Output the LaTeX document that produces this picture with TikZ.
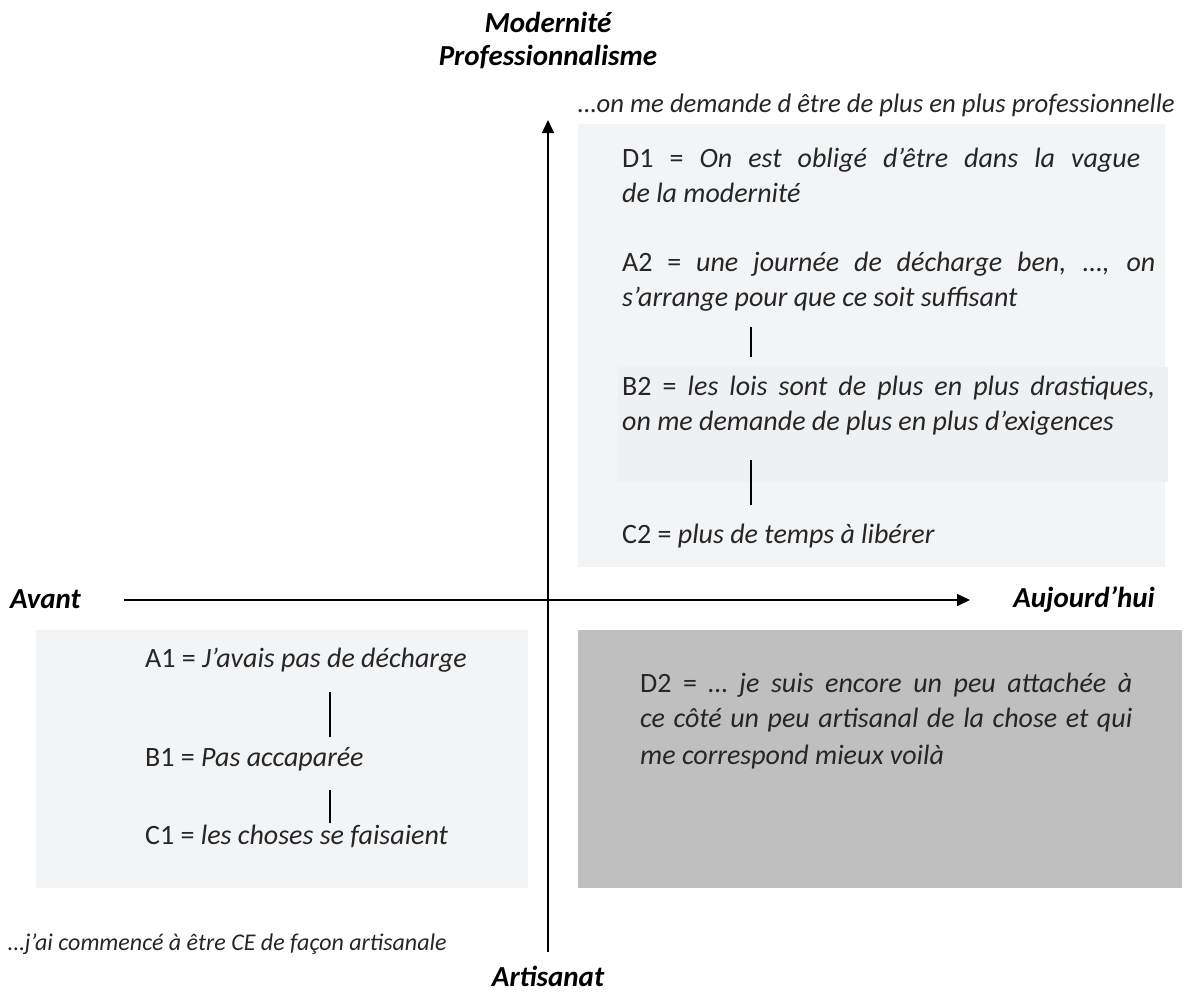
\documentclass[tikz,border=0pt]{standalone}
\usepackage{fontspec}
\setmainfont{Carlito}
\usetikzlibrary{arrows.meta}
\definecolor{boxlight}{HTML}{F3F4F6}
\definecolor{boxsub}{HTML}{EFF0F2}
\definecolor{boxdark}{HTML}{BFBFBF}
\definecolor{txt}{HTML}{262626}
\newcommand{\stretchline}[2]{\makebox[#1][s]{#2}}
\tikzset{
  axis/.style={line width=1.6pt, -{Triangle[length=13pt,width=12pt]}},
  title/.style={font=\fontsize{29}{35}\selectfont\bfseries\itshape, text=black, inner sep=0pt},
  note/.style={font=\fontsize{26.7}{32}\selectfont\itshape, text=txt, inner sep=0pt, anchor=base west},
  smallnote/.style={font=\fontsize{24}{29}\selectfont\itshape, text=txt, inner sep=0pt, anchor=base west},
  item/.style={font=\fontsize{28}{34}\selectfont, text=txt, inner sep=0pt, anchor=base west},
  link/.style={line width=1.4pt},
}
\begin{document}
\begin{tikzpicture}[x=1pt,y=-1pt]
\useasboundingbox (0,0) rectangle (1186,994);
% boxes
\fill[boxlight] (578,124) rectangle (1165,567);
\fill[boxsub] (618,367) rectangle (1168,482);
\fill[boxlight] (36,630) rectangle (528,888);
\fill[boxdark] (578,630) rectangle (1182,888);
% axes
\coordinate (vbot) at (548,952);
\coordinate (vtop) at (548,120);
\coordinate (hleft) at (124,600);
\coordinate (hright) at (970,600);
\draw[axis] (vbot) -- (vtop);
\draw[axis] (hleft) -- (hright);
% axis titles
\node[title] (mod) at (548,22) {Modernité};
\node[title] (prof) at (548,57) {Professionnalisme};
\node[title, anchor=west] (avant) at (10,599) {Avant};
\node[title, anchor=east] (auj) at (1155,599) {Aujourd’hui};
\node[title] (art) at (548,976) {Artisanat};
% notes
\node[note] (ntop) at (578,112) {…on me demande d être de plus en plus professionnelle};
\node[smallnote] (nbot) at (8,950) {…j’ai commencé à être CE de façon artisanale};
% top-right items
\node[item] (d1a) at (622,167) {\stretchline{518pt}{D1 = \textit{On est obligé d’être dans la vague}}};
\node[item] (d1b) at (622,202) {\textit{de la modernité}};
\node[item] (a2a) at (622,271) {\stretchline{533pt}{A2 = \textit{une journée de décharge ben, …, on}}};
\node[item] (a2b) at (622,306) {\textit{s’arrange pour que ce soit suffisant}};
\node[item] (b2a) at (622,395) {\stretchline{533pt}{B2 = \textit{les lois sont de plus en plus drastiques,}}};
\node[item] (b2b) at (622,430) {\textit{on me demande de plus en plus d’exigences}};
\node[item] (c2) at (622,543) {C2 = \textit{plus de temps à libérer}};
\coordinate (l1t) at (751,327);
\coordinate (l1b) at (751,357);
\coordinate (l2t) at (751,460);
\coordinate (l2b) at (751,505);
\draw[link] (l1t) -- (l1b);
\draw[link] (l2t) -- (l2b);
% bottom-left items
\node[item] (a1) at (145,667) {A1 = \textit{J’avais pas de décharge}};
\node[item] (b1) at (145,766) {B1 = \textit{Pas accaparée}};
\node[item] (c1) at (145,844) {C1 = \textit{les choses se faisaient}};
\coordinate (m1t) at (330,692);
\coordinate (m1b) at (330,737);
\coordinate (m2t) at (330,790);
\coordinate (m2b) at (330,823);
\draw[link] (m1t) -- (m1b);
\draw[link] (m2t) -- (m2b);
% bottom-right item
\node[item] (d2a) at (640,692) {\stretchline{492pt}{D2 = \textit{… je suis encore un peu attachée à}}};
\node[item] (d2b) at (640,727) {\stretchline{492pt}{\textit{ce côté un peu artisanal de la chose et qui}}};
\node[item] (d2c) at (640,764) {\textit{me correspond mieux voilà}};
\end{tikzpicture}
\end{document}
